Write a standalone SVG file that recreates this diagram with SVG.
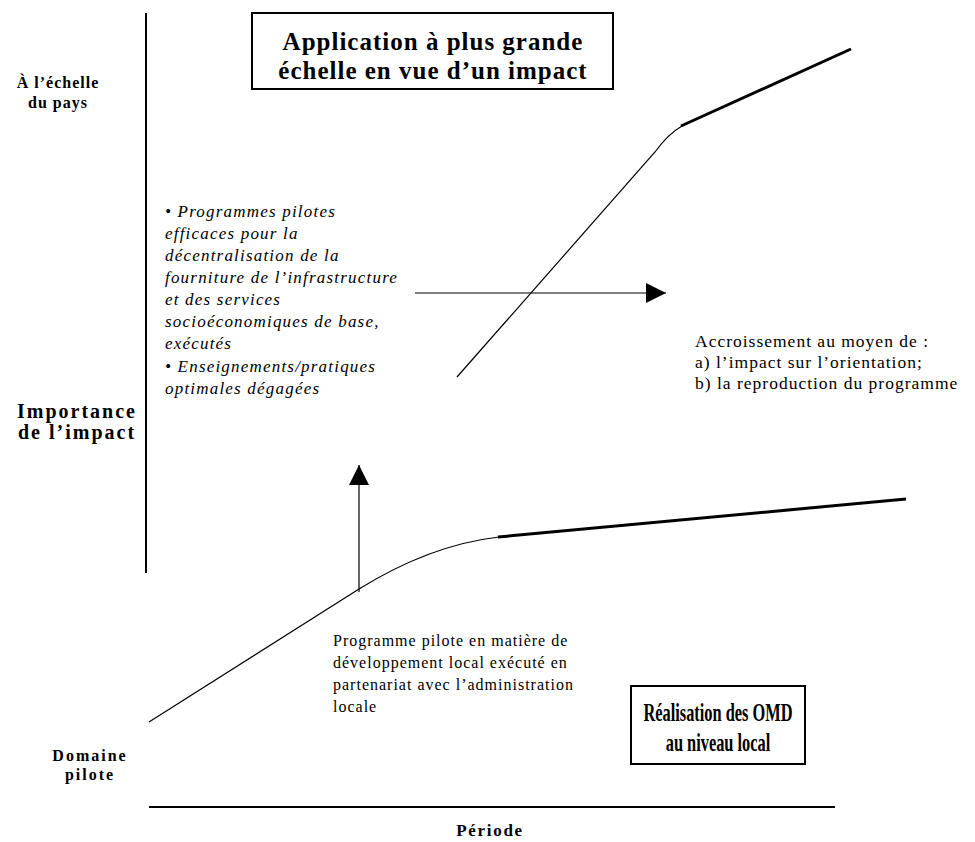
<svg xmlns="http://www.w3.org/2000/svg" width="975" height="842" viewBox="0 0 975 842">
<defs>
<style>
.lbl{font-family:"Liberation Serif","Times New Roman",serif;font-weight:bold;fill:#000;text-anchor:middle}
.ttl{font-family:"Liberation Serif","Times New Roman",serif;font-weight:bold;font-size:25px;fill:#000;text-anchor:middle;letter-spacing:1px}
.ttl2{font-family:"Liberation Serif","Times New Roman",serif;font-weight:bold;font-size:26px;fill:#000;text-anchor:middle}
.txt{font-family:"Liberation Serif","Times New Roman",serif;font-size:16px;fill:#000;letter-spacing:1px}
.txt2{font-family:"Liberation Serif","Times New Roman",serif;font-size:17.5px;fill:#000;letter-spacing:1px}
.it{font-family:"Liberation Serif","Times New Roman",serif;font-size:17px;font-style:italic;fill:#000;letter-spacing:1.2px}
.box{fill:#fff;stroke:#000;stroke-width:2}
.thin{fill:none;stroke:#000;stroke-width:1.2}
.thick{fill:none;stroke:#000;stroke-width:3}
.axis{fill:none;stroke:#000;stroke-width:2}
</style>
<marker id="tri" viewBox="0 0 20 20" refX="20" refY="10" markerWidth="20" markerHeight="20" markerUnits="userSpaceOnUse" orient="auto">
<path d="M0,0 L20,10 L0,20 z" fill="#000"/>
</marker>
</defs>
<rect width="975" height="842" fill="#fff"/>

<g id="axes">
<line class="axis" x1="146" y1="13" x2="146" y2="573"/>
<line class="axis" x1="149" y1="807" x2="835" y2="807"/>
</g>

<g id="axis-labels">
<text class="lbl" font-size="16" letter-spacing="1" x="58" y="88">À l’échelle</text>
<text class="lbl" font-size="16" letter-spacing="1" x="58" y="108">du pays</text>
<text class="lbl" font-size="20" letter-spacing="2" x="77" y="418">Importance</text>
<text class="lbl" font-size="20" letter-spacing="2" x="77" y="439">de l’impact</text>
<text class="lbl" font-size="16" letter-spacing="2" x="90" y="761">Domaine</text>
<text class="lbl" font-size="16" letter-spacing="2" x="90" y="780">pilote</text>
<text class="lbl" font-size="17" letter-spacing="1.7" x="490" y="836">Période</text>
</g>

<g id="node-application">
<rect class="box" x="252" y="13" width="361" height="76"/>
<text class="ttl" x="433" y="50">Application à plus grande</text>
<text class="ttl" x="433" y="79">échelle en vue d’un impact</text>
</g>

<g id="node-omd">
<rect class="box" x="631" y="686" width="174" height="78"/>
<g transform="translate(718,0) scale(0.63,1)">
<text class="ttl2" x="0" y="721">Réalisation des OMD</text>
<text class="ttl2" x="0" y="751">au niveau local</text>
</g>
</g>

<g id="text-pilotes">
<text class="it" x="165" y="217">• Programmes pilotes</text>
<text class="it" x="165" y="239">efficaces pour la</text>
<text class="it" x="165" y="261">décentralisation de la</text>
<text class="it" x="165" y="283">fourniture de l’infrastructure</text>
<text class="it" x="165" y="305">et des services</text>
<text class="it" x="165" y="327">socioéconomiques de base,</text>
<text class="it" x="165" y="349">exécutés</text>
<text class="it" x="165" y="372">• Enseignements/pratiques</text>
<text class="it" x="165" y="394">optimales dégagées</text>
</g>

<g id="text-accroissement">
<text class="txt2" x="695" y="347">Accroissement au moyen de :</text>
<text class="txt2" x="695" y="368">a) l’impact sur l’orientation;</text>
<text class="txt2" x="695" y="389">b) la reproduction du programme</text>
</g>

<g id="text-programme">
<text class="txt" x="333" y="646">Programme pilote en matière de</text>
<text class="txt" x="333" y="668">développement local exécuté en</text>
<text class="txt" x="333" y="690">partenariat avec l’administration</text>
<text class="txt" x="333" y="712">locale</text>
</g>

<g id="connectors">
<path class="thin" d="M457,377 L655,152 Q668,134 682,126"/>
<line class="thick" x1="681" y1="126" x2="851" y2="49"/>
<path class="thin" d="M149,722 L359,589 Q430,545 499,537"/>
<line class="thick" x1="498" y1="537" x2="906" y2="499"/>
<line class="thin" x1="415" y1="293" x2="666" y2="293" marker-end="url(#tri)"/>
<line class="thin" x1="359" y1="592" x2="359" y2="465" marker-end="url(#tri)"/>
</g>
</svg>
